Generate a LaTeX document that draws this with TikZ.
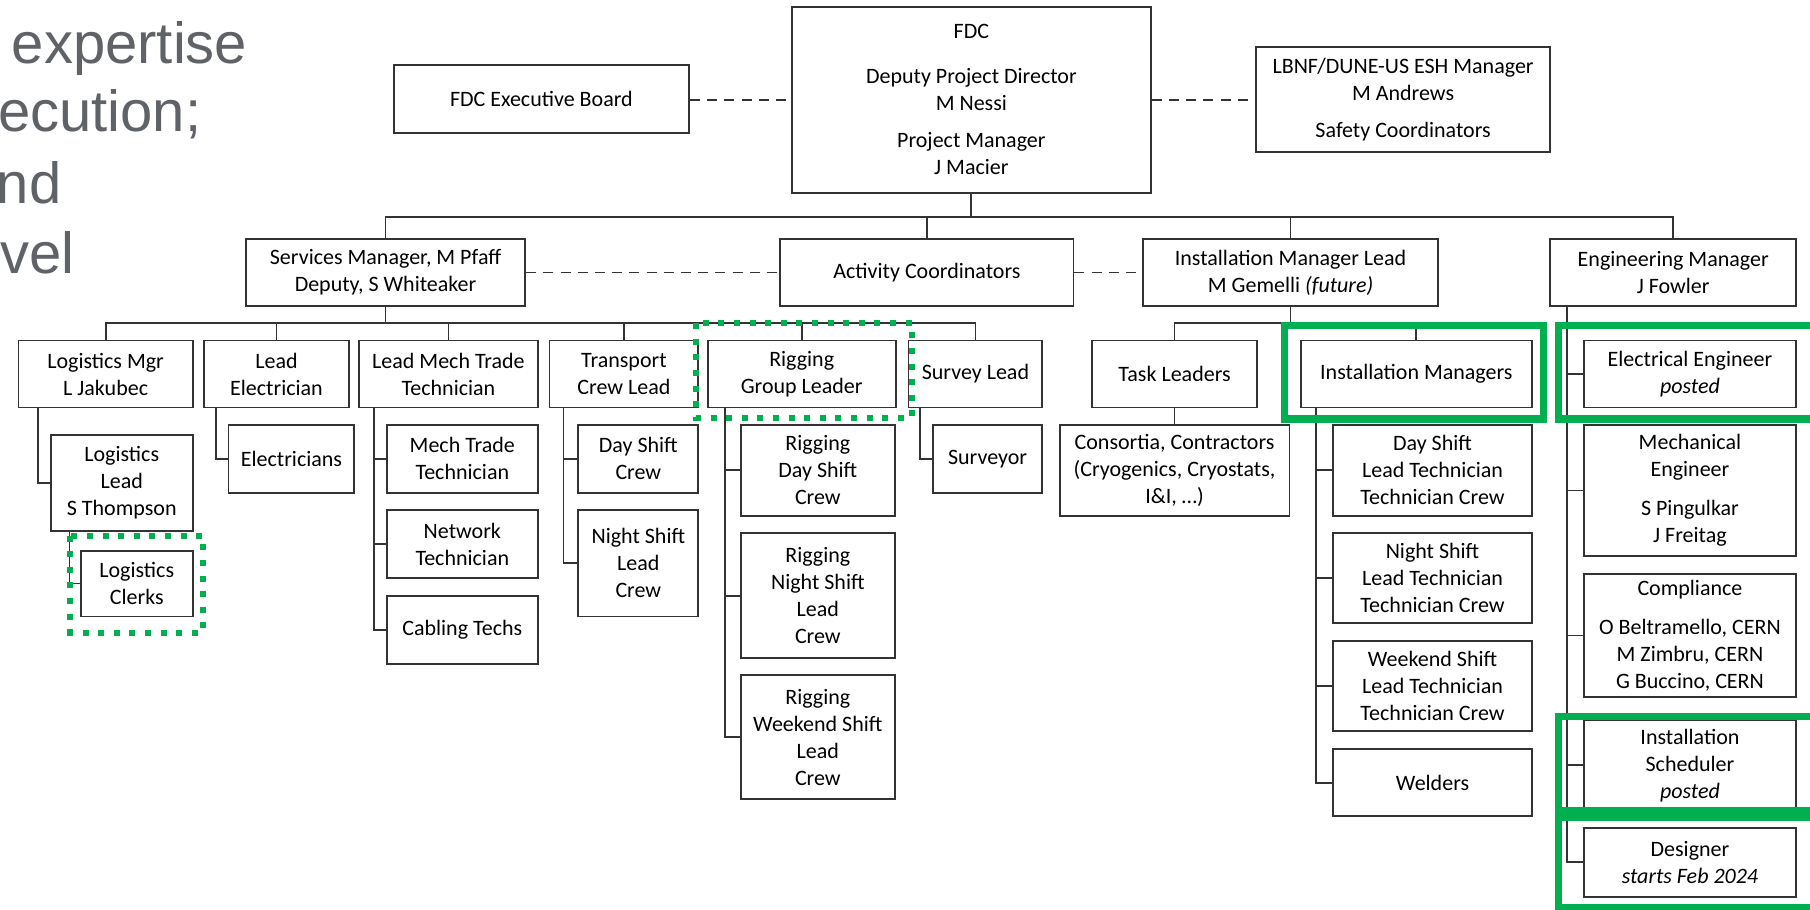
\documentclass[tikz,border=0pt]{standalone}
\usepackage{fontspec}
\setmainfont{Carlito}
\newfontfamily\arialfnt{Liberation Sans}
\usepackage{tikz}
\definecolor{grn}{HTML}{00B050}
\definecolor{gtext}{HTML}{5F6368}
\newdimen\pxu \pxu=0.5772pt
\tikzset{bx/.style={draw=black!80, line width=0.9pt, inner sep=0pt, align=center, font=\fontsize{11}{13.5}\selectfont}}
\tikzset{sz/.style 2 args={minimum width=#1\pxu, minimum height=#2\pxu}}
\tikzset{ln/.style={draw=black!80, line width=0.9pt}}
\tikzset{dsh/.style={ln, dash pattern=on 5pt off 3.6pt}}
\tikzset{gsol/.style={draw=grn, line width=3.6pt}}
\tikzset{gdot/.style={draw=grn, line width=3pt, dash pattern=on 3pt off 4.8pt}}
\tikzset{gry/.style={font=\arialfnt\fontsize{29}{29}\selectfont, text=gtext, inner sep=0pt, anchor=base west}}

\begin{document}
\begin{tikzpicture}[x=0.5772pt, y=-0.5772pt]
  \clip (0,0) rectangle (1568,788);
  \fill[white] (0,0) rectangle (1568,788);

  % slide text at the left edge
  \node[gry] (w1) at (10,55) {expertise};
  \node[gry] (w2) at (-2,114) {ecution;};
  \node[gry] (w3) at (-3,176) {nd};
  \node[gry] (w4) at (0,237) {vel};

  % top row
  \node[bx, sz={256}{59}] (exb) at (469,86) {FDC Executive Board};
  \node[bx, sz={311}{161}] (fdc) at (841.5,86.5) {FDC\\[9pt] Deputy Project Director\\ M Nessi\\[5pt] Project Manager\\ J Macier};
  \node[bx, sz={255}{91}] (esh) at (1215.5,86.5) {LBNF/DUNE-US ESH Manager\\ M Andrews\\[5pt] Safety Coordinators};
  \draw[dsh] (exb.east |- fdc.west) -- (fdc.west);
  \draw[dsh] (fdc.east |- esh.west) -- (esh.west);

  % managers
  \node[bx, sz={242}{58}] (svc) at (334,236) {Services Manager, M Pfaff\\ Deputy, S Whiteaker};
  \node[bx, sz={254}{58}] (act) at (803,236) {Activity Coordinators};
  \node[bx, sz={256}{58}] (iml) at (1118,236) {Installation Manager Lead\\ M Gemelli \textit{(future)}};
  \node[bx, sz={213}{58}] (eng) at (1449.5,236) {Engineering Manager\\ J Fowler};
  \draw[dsh] (svc.east) -- (act.west);
  \draw[dsh] (act.east) -- (iml.west);
  \coordinate (b1) at (0,188);
  \draw[ln] (fdc.south) -- (fdc.south |- b1);
  \draw[ln] (svc.north) |- (eng.north |- b1) -- (eng.north);
  \draw[ln] (act.north) -- (act.north |- b1);
  \draw[ln] (iml.north) -- (iml.north |- b1);

  % services
  \node[bx, sz={151}{58}] (lmg) at (91.5,324) {Logistics Mgr\\ L Jakubec};
  \node[bx, sz={125}{58}] (lel) at (239.5,324) {Lead\\ Electrician};
  \node[bx, sz={155}{58}] (lmt) at (388.5,324) {Lead Mech Trade\\ Technician};
  \node[bx, sz={129}{58}] (tcl) at (540.5,324) {Transport\\ Crew Lead};
  \node[bx, sz={163}{58}] (rgl) at (694.5,324) {Rigging\\ Group Leader};
  \node[bx, sz={116}{58}] (svl) at (845,324) {Survey Lead};
  \coordinate (b2) at (0,280);
  \draw[ln] (svc.south) -- (svc.south |- b2);
  \draw[ln] (lmg.north) |- (svl.north |- b2) -- (svl.north);
  \draw[ln] (lel.north) -- (lel.north |- b2);
  \draw[ln] (lmt.north) -- (lmt.north |- b2);
  \draw[ln] (tcl.north) -- (tcl.north |- b2);
  \draw[ln] (rgl.north) -- (rgl.north |- b2);

  \node[bx, sz={123}{83}] (llead) at (105.5,418.5) {Logistics\\ Lead\\ S Thompson};
  \node[bx, sz={97}{57}] (lclk) at (118.5,505.5) {Logistics\\ Clerks};
  \node[bx, sz={109}{59}] (ele) at (252.5,397.5) {Electricians};
  \node[bx, sz={131}{59}] (mtt) at (400.5,397.5) {Mech Trade\\ Technician};
  \node[bx, sz={131}{59}] (net) at (400.5,471.5) {Network\\ Technician};
  \node[bx, sz={131}{59}] (cab) at (400.5,545.5) {Cabling Techs};
  \node[bx, sz={104}{59}] (dsc) at (553,397.5) {Day Shift\\ Crew};
  \node[bx, sz={104}{92}] (nsc) at (553,488) {Night Shift\\ Lead\\ Crew};
  \node[bx, sz={133}{79}] (rds) at (708.5,407.5) {Rigging\\ Day Shift\\ Crew};
  \node[bx, sz={133}{108}] (rns) at (708.5,516) {Rigging\\ Night Shift\\ Lead\\ Crew};
  \node[bx, sz={133}{107}] (rws) at (708.5,638.5) {Rigging\\ Weekend Shift\\ Lead\\ Crew};
  \node[bx, sz={95}{59}] (svy) at (855.5,397.5) {Surveyor};
  \draw[ln] (lmg.south west) ++(18,0) |- (llead.west);
  \draw[ln] (llead.south west) ++(17,0) |- (lclk.west);
  \draw[ln] (lel.south west) ++(11,0) |- (ele.west);
  \draw[ln] (lmt.south west) ++(14,0) |- (mtt.west);
  \draw[ln] (lmt.south west) ++(14,0) |- (net.west);
  \draw[ln] (lmt.south west) ++(14,0) |- (cab.west);
  \draw[ln] (tcl.south west) ++(13,0) |- (dsc.west);
  \draw[ln] (tcl.south west) ++(13,0) |- (nsc.west);
  \draw[ln] (rgl.south west) ++(16,0) |- (rds.west);
  \draw[ln] (rgl.south west) ++(16,0) |- (rns.west);
  \draw[ln] (rgl.south west) ++(16,0) |- (rws.west);
  \draw[ln] (svl.south west) ++(11,0) |- (svy.west);

  % installation
  \node[bx, sz={143}{58}] (tsk) at (1017.5,324) {Task Leaders};
  \node[bx, sz={200}{58}] (imgr) at (1227,324) {Installation Managers};
  \node[bx, sz={199}{79}] (con) at (1017.5,407.5) {Consortia, Contractors\\ (Cryogenics, Cryostats,\\ I\&I, \ldots)};
  \node[bx, sz={172}{79}] (ids) at (1241,407.5) {Day Shift\\ Lead Technician\\ Technician Crew};
  \node[bx, sz={172}{78}] (ins) at (1241,501) {Night Shift\\ Lead Technician\\ Technician Crew};
  \node[bx, sz={172}{78}] (iws) at (1241,594) {Weekend Shift\\ Lead Technician\\ Technician Crew};
  \node[bx, sz={172}{58}] (wld) at (1241,678) {Welders};
  \draw[ln] (iml.south) -- (iml.south |- b2);
  \draw[ln] (tsk.north) |- (imgr.north |- b2) -- (imgr.north);
  \draw[ln] (tsk.south) -- (con.north);
  \draw[ln] (imgr.south west) ++(14,0) |- (ids.west);
  \draw[ln] (imgr.south west) ++(14,0) |- (ins.west);
  \draw[ln] (imgr.south west) ++(14,0) |- (iws.west);
  \draw[ln] (imgr.south west) ++(14,0) |- (wld.west);

  % engineering
  \node[bx, sz={184}{58}] (eel) at (1464,324) {Electrical Engineer\\ \textit{posted}};
  \node[bx, sz={184}{114}] (mec) at (1464,425) {Mechanical\\ Engineer\\[6pt] S Pingulkar\\ J Freitag};
  \node[bx, sz={184}{107}] (cmp) at (1464,550.5) {Compliance\\[6pt] O Beltramello, CERN\\ M Zimbru, CERN\\ G Buccino, CERN};
  \node[bx, sz={184}{78}] (sch) at (1464,663) {Installation\\ Scheduler\\ \textit{posted}};
  \node[bx, sz={184}{60}] (dsg) at (1464,747) {Designer\\ \textit{starts Feb 2024}};
  \draw[ln] (eng.south west) ++(15,0) |- (eel.west);
  \draw[ln] (eng.south west) ++(15,0) |- (mec.west);
  \draw[ln] (eng.south west) ++(15,0) |- (cmp.west);
  \draw[ln] (eng.south west) ++(15,0) |- (sch.west);
  \draw[ln] (eng.south west) ++(15,0) |- (dsg.west);

  % highlights
  \draw[gdot] (61,464) rectangle (176,548);
  \draw[gdot] (603,280) rectangle (790,362);
  \draw[gsol] (1113,282) rectangle (1337,363);
  \draw[gsol] (1350,282) rectangle (1580,363);
  \draw[gsol] (1350,621) rectangle (1580,702);
  \draw[gsol] (1350,708) rectangle (1580,786);
\end{tikzpicture}
\end{document}
